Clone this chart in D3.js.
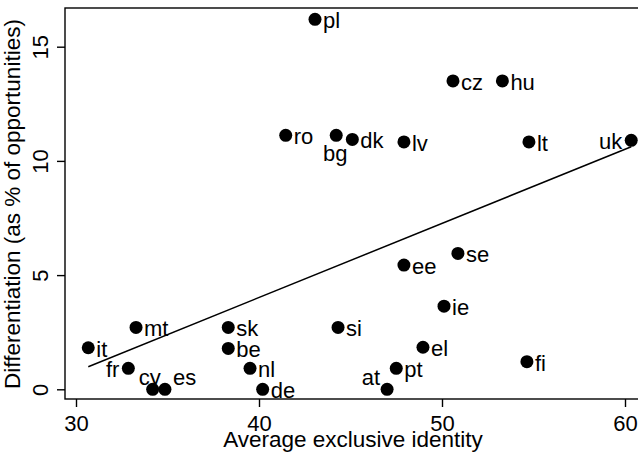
<!DOCTYPE html>
<html>
<head>
<meta charset="utf-8">
<script src="https://cdn.jsdelivr.net/npm/d3@7"></script>
<style>
  html, body { margin: 0; padding: 0; background: #fff; }
  svg { display: block; font-family: "Liberation Sans", Arial, Helvetica, sans-serif; }
</style>
</head>
<body>
<svg id="chart" width="638" height="461"></svg>
<script>
// ---- Data ----
const countries = ["pl","ro","bg","dk","lv","cz","hu","lt","uk","it","mt","fr","cy","es","sk","be","nl","de","si","ee","se","ie","el","pt","at","fi"];
const identity  = [43.06,41.46,44.22,45.1,47.92,50.6,53.3,54.75,60.34,30.67,33.28,32.86,34.19,34.86,38.32,38.32,39.51,40.2,44.32,47.92,50.87,50.11,48.96,47.5,47.0,54.64];
const differentiation = [16.2,11.12,11.12,10.94,10.83,13.5,13.5,10.83,10.9,1.82,2.71,0.92,0,0,2.71,1.79,0.92,0,2.71,5.44,5.95,3.64,1.84,0.92,0,1.21];
// label clock positions (like Stata mlabvposition)
const labelPos = ["3","3","6","3","3","3","3","3","9","3","3","9","11","1","3","3","3","3","3","3","3","3","3","3","10","3"];
const xTicks = [30, 40, 50, 60];
const yTicks = [0, 5, 10, 15];
const fitX = [30.67, 60.34];
const fitY = [0.99, 10.62];
const xTitle = "Average exclusive identity";
const yTitle = "Differentiation (as % of opportunities)";

// ---- Layout ----
const svg = d3.select("#chart");
const plot = { left: 65, top: 8, right: 641, bottom: 399 };
const x = d3.scaleLinear().domain([30, 60]).range([76, 625]);
const y = d3.scaleLinear().domain([0, 15]).range([389.3, 46.7]);
const ink = "#000";

// frame
svg.append("rect")
  .attr("x", plot.left).attr("y", plot.top)
  .attr("width", plot.right - plot.left).attr("height", plot.bottom - plot.top)
  .attr("fill", "none").attr("stroke", ink).attr("stroke-width", 1.4);

// x axis
const gx = svg.append("g").attr("transform", `translate(0,${plot.bottom})`)
  .call(d3.axisBottom(x).tickValues(xTicks).tickSize(8).tickPadding(8).tickFormat(d3.format("d")));
gx.select(".domain").remove();
gx.selectAll("line").attr("stroke", ink).attr("stroke-width", 1.4);
gx.selectAll("text").attr("font-size", 22).attr("fill", ink).style("font-family", "inherit");

// y axis
const gy = svg.append("g").attr("transform", `translate(${plot.left},0)`)
  .call(d3.axisLeft(y).tickValues(yTicks).tickSize(8).tickFormat(d3.format("d")));
gy.select(".domain").remove();
gy.selectAll("line").attr("stroke", ink).attr("stroke-width", 1.4);
gy.selectAll("text")
  .attr("font-size", 22).attr("fill", ink).style("font-family", "inherit")
  .attr("x", 0).attr("y", -17).attr("dy", null)
  .attr("text-anchor", "middle")
  .attr("transform", "rotate(-90)");

// titles
svg.append("text").attr("x", 353).attr("y", 447)
  .attr("text-anchor", "middle").attr("font-size", 22.5).attr("fill", ink).text(xTitle);
svg.append("text").attr("transform", "translate(20,204) rotate(-90)")
  .attr("text-anchor", "middle").attr("font-size", 22.5).attr("fill", ink).text(yTitle);

// fit line
svg.append("line")
  .attr("x1", x(fitX[0])).attr("y1", y(fitY[0]))
  .attr("x2", x(fitX[1])).attr("y2", y(fitY[1]))
  .attr("stroke", ink).attr("stroke-width", 1.5);

// points
const data = countries.map((c, i) => ({ c, xv: identity[i], yv: differentiation[i], pos: labelPos[i] }));
svg.append("g").selectAll("circle").data(data).join("circle")
  .attr("cx", d => x(d.xv)).attr("cy", d => y(d.yv)).attr("r", 6.5).attr("fill", ink);

// labels
const offsets = {
  "3":  { dx: 8,  dy: 9,  anchor: "start" },
  "9":  { dx: -9, dy: 9,  anchor: "end" },
  "6":  { dx: -1, dy: 26, anchor: "middle" },
  "11": { dx: -3, dy: -4, anchor: "middle" },
  "1":  { dx: 8,  dy: -4, anchor: "start" },
  "10": { dx: -7, dy: -4, anchor: "end" }
};
svg.append("g").selectAll("text").data(data).join("text")
  .attr("x", d => x(d.xv) + offsets[d.pos].dx)
  .attr("y", d => y(d.yv) + offsets[d.pos].dy)
  .attr("text-anchor", d => offsets[d.pos].anchor)
  .attr("font-size", 22).attr("fill", ink)
  .text(d => d.c);
</script>
</body>
</html>
